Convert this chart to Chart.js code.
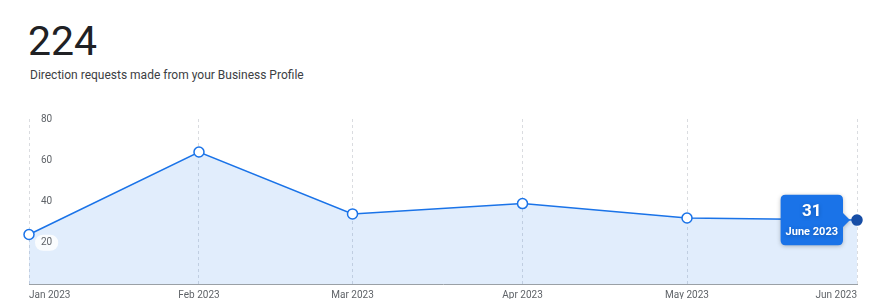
<!DOCTYPE html>
<html>
<head>
<meta charset="utf-8">
<script src="https://cdn.jsdelivr.net/npm/chart.js@4"></script>
<style>
  html, body { margin: 0; padding: 0; background: #fff; overflow: hidden; }
  body { width: 876px; height: 299px; position: relative; font-family: Roboto, sans-serif; }
  .total { position: absolute; left: 28px; top: 17px; font-size: 41px; color: #202124; line-height: 48px; }
  .caption { position: absolute; left: 30px; top: 67px; font-size: 12px; color: #3c4043; line-height: 16px; }
  .chartBox { position: absolute; left: 0; top: 100px; width: 876px; height: 206px; }
</style>
</head>
<body>
<div class="total">224</div>
<div class="caption">Direction requests made from your Business Profile</div>
<div class="chartBox"><canvas id="myChart"></canvas></div>

<script>
const monthStarts = ['2023-01-01', '2023-02-01', '2023-03-01', '2023-04-01', '2023-05-01', '2023-06-01'];
const tickLabels = ['Jan 2023', 'Feb 2023', 'Mar 2023', 'Apr 2023', 'May 2023', 'Jun 2023'];
const tooltipLabels = ['January 2023', 'February 2023', 'March 2023', 'April 2023', 'May 2023', 'June 2023'];
const requests = [24, 64, 34, 39, 32, 31];
const yTicks = [20, 40, 60, 80];

const blue = '#1a73e8';
const darkBlue = '#174ea6';

// days since first month, so spacing follows calendar like a time axis
const dayOffsets = monthStarts.map(d => (Date.parse(d) - Date.parse(monthStarts[0])) / 86400000);
const lastIndex = requests.length - 1;

const yLabels = {
  id: 'yLabels',
  afterDatasetsDraw: (chart) => {
    const { ctx, chartArea: { left }, scales: { y } } = chart;
    ctx.save();
    ctx.font = '10px Roboto';
    ctx.textBaseline = 'middle';
    ctx.textAlign = 'left';
    yTicks.forEach(v => {
      const py = y.getPixelForValue(v);
      const w = ctx.measureText(String(v)).width;
      ctx.fillStyle = 'rgba(255,255,255,0.85)';
      ctx.beginPath();
      ctx.roundRect(left + 6, py - 8, w + 12, 16, 8);
      ctx.fill();
      ctx.fillStyle = '#5f6368';
      ctx.fillText(String(v), left + 12, py);
    });
    ctx.restore();
  }
};

const tooltipShadow = {
  id: 'tooltipShadow',
  beforeTooltipDraw: (chart) => {
    const ctx = chart.ctx;
    ctx.save();
    ctx.shadowColor = 'rgba(0,0,0,0.25)';
    ctx.shadowBlur = 4;
    ctx.shadowOffsetY = 1;
  },
  afterTooltipDraw: (chart) => {
    chart.ctx.restore();
  }
};

const config = {
  type: 'line',
  data: {
    datasets: [{
      data: requests.map((v, i) => ({ x: dayOffsets[i], y: v })),
      clip: false,
      borderColor: blue,
      borderWidth: 1.5,
      backgroundColor: 'rgba(26,115,232,0.13)',
      fill: 'origin',
      tension: 0,
      pointRadius: 5,
      pointBorderWidth: 1.5,
      pointBorderColor: requests.map((v, i) => i === lastIndex ? darkBlue : blue),
      pointBackgroundColor: requests.map((v, i) => i === lastIndex ? darkBlue : '#fff'),
      pointHoverRadius: 5,
      pointHoverBorderWidth: 1.5,
    }]
  },
  options: {
    responsive: true,
    maintainAspectRatio: false,
    animation: false,
    events: [],
    layout: { padding: { left: 29, right: 19, top: 19, bottom: 0 } },
    scales: {
      x: {
        type: 'linear',
        min: dayOffsets[0],
        max: dayOffsets[lastIndex],
        afterBuildTicks: (axis) => {
          axis.ticks = dayOffsets.map(v => ({ value: v }));
        },
        ticks: {
          autoSkip: false,
          maxRotation: 0,
          align: 'inner',
          padding: 5,
          color: '#5f6368',
          font: { family: 'Roboto', size: 10 },
          callback: (value) => tickLabels[dayOffsets.indexOf(value)],
        },
        grid: { color: '#dadce0', drawTicks: false, lineWidth: 1 },
        border: { color: '#9aa0a6', width: 1, dash: [3, 3] },
      },
      y: {
        display: false,
        min: 0,
        max: 80,
      }
    },
    plugins: {
      legend: { display: false },
      tooltip: {
        enabled: true,
        displayColors: false,
        backgroundColor: blue,
        xAlign: 'right',
        yAlign: 'center',
        caretSize: 7,
        caretPadding: 7,
        cornerRadius: 5,
        padding: { left: 5, right: 5, top: 7, bottom: 7 },
        titleAlign: 'center',
        bodyAlign: 'center',
        titleColor: '#fff',
        bodyColor: '#fff',
        titleFont: { family: 'Roboto', size: 17, weight: 'bold' },
        bodyFont: { family: 'Roboto', size: 11, weight: 'bold' },
        titleMarginBottom: 3,
        callbacks: {
          title: (items) => String(requests[items[0].dataIndex]),
          label: (item) => tooltipLabels[item.dataIndex],
        }
      }
    }
  },
  plugins: [yLabels, tooltipShadow]
};

const ctx = document.getElementById('myChart').getContext('2d');
const myChart = new Chart(ctx, config);

const meta = myChart.getDatasetMeta(0);
const lastPt = meta.data[lastIndex];
myChart.tooltip.setActiveElements([{ datasetIndex: 0, index: lastIndex }], { x: lastPt.x, y: lastPt.y });
myChart.update();
</script>
</body>
</html>
